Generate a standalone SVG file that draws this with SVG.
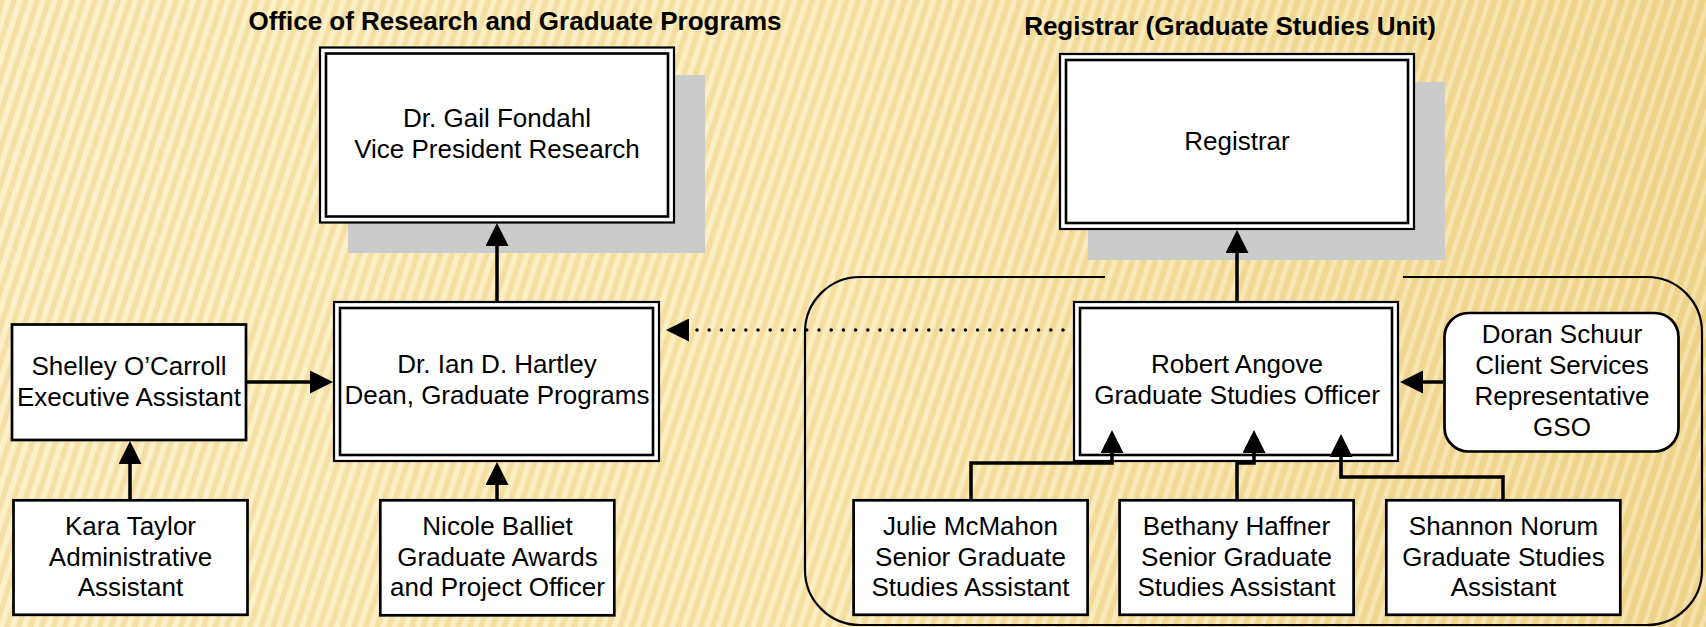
<svg xmlns="http://www.w3.org/2000/svg" width="1706" height="627" viewBox="0 0 1706 627">
<defs>
<linearGradient id="bgGrad" x1="0" y1="0" x2="1" y2="0">
<stop offset="0" stop-color="#FBEDC0"/>
<stop offset="0.5" stop-color="#F9E8B4"/>
<stop offset="1" stop-color="#F0D68F"/>
</linearGradient>
<pattern id="stripes" width="11" height="40" patternUnits="userSpaceOnUse" patternTransform="rotate(18)">
<rect x="0" y="0" width="5" height="40" fill="#E6C877" opacity="0.35"/>
<rect x="6" y="0" width="4" height="40" fill="#FFF8DC" opacity="0.35"/>
</pattern>
<marker id="arrow" viewBox="0 0 23 23" markerWidth="23" markerHeight="23" refX="3" refY="11.5" orient="auto" markerUnits="userSpaceOnUse">
<path d="M0,0 L23,11.5 L0,23 Z" fill="#000"/>
</marker>
<marker id="arrowD" viewBox="0 0 23 23" markerWidth="23" markerHeight="23" refX="0" refY="11.5" orient="auto" markerUnits="userSpaceOnUse">
<path d="M0,0 L23,11.5 L0,23 Z" fill="#000"/>
</marker>
</defs>
<style>
text{font-family:"Liberation Sans",Arial,sans-serif;font-size:26px;fill:#000;text-anchor:middle}
.title{font-weight:bold}
.box{fill:#fff;stroke:#000;stroke-width:2.7}
.outer{fill:#fff;stroke:#000;stroke-width:2.2}
.inner{fill:none;stroke:#000;stroke-width:2.6}
.shadow{fill:#CBCBCB;stroke:none}
.conn{fill:none;stroke:#000;stroke-width:3.5;marker-end:url(#arrow)}
.dot{fill:none;stroke:#000;stroke-width:3.5;stroke-linecap:round;stroke-dasharray:0 12.2;marker-end:url(#arrowD)}
.cont{fill:none;stroke:#000;stroke-width:2.2}
</style>
<rect x="0" y="0" width="1706" height="627" fill="url(#bgGrad)"/>
<rect x="0" y="0" width="1706" height="627" fill="url(#stripes)"/>

<text class="title" x="515" y="30">Office of Research and Graduate Programs</text>
<text class="title" x="1230" y="35">Registrar (Graduate Studies Unit)</text>

<path class="cont" d="M1105,277 H860 A55,55 0 0 0 805,332 V570 A55,55 0 0 0 860,625 H1647 A55,55 0 0 0 1702,570 V332 A55,55 0 0 0 1647,277 H1403"/>

<g id="gail">
<rect class="shadow" x="348" y="75" width="357" height="178"/>
<rect class="outer" x="320" y="47.5" width="354" height="175"/>
<rect class="inner" x="326" y="53.5" width="342" height="163"/>
<text x="497" y="127">Dr. Gail Fondahl</text>
<text x="497" y="158">Vice President Research</text>
</g>

<g id="registrar">
<rect class="shadow" x="1088" y="82" width="357" height="178"/>
<rect class="outer" x="1060" y="54" width="354" height="175"/>
<rect class="inner" x="1066" y="60" width="342" height="163"/>
<text x="1237" y="150">Registrar</text>
</g>

<g id="dean">
<rect class="outer" x="334" y="302" width="325" height="159"/>
<rect class="inner" x="340" y="308" width="313" height="147"/>
<text x="497" y="373">Dr. Ian D. Hartley</text>
<text x="497" y="404">Dean, Graduate Programs</text>
</g>

<g id="robert">
<rect class="outer" x="1074" y="302" width="324" height="159"/>
<rect class="inner" x="1080" y="308" width="312" height="147"/>
<text x="1237" y="373">Robert Angove</text>
<text x="1237" y="404">Graduate Studies Officer</text>
</g>

<g id="shelley">
<rect class="box" x="12" y="324.5" width="234" height="115.5"/>
<text x="129" y="375">Shelley O’Carroll</text>
<text x="129" y="406">Executive Assistant</text>
</g>

<g id="kara">
<rect class="box" x="13.5" y="500.3" width="234" height="114.5"/>
<text x="130.5" y="535">Kara Taylor</text>
<text x="130.5" y="565.5">Administrative</text>
<text x="130.5" y="596">Assistant</text>
</g>

<g id="nicole">
<rect class="box" x="380.3" y="500.3" width="234" height="115"/>
<text x="497.5" y="535">Nicole Balliet</text>
<text x="497.5" y="565.5">Graduate Awards</text>
<text x="497.5" y="596">and Project Officer</text>
</g>

<g id="doran">
<rect class="box" x="1444.5" y="313" width="234" height="138.5" rx="24" ry="24"/>
<text x="1562" y="343">Doran Schuur</text>
<text x="1562" y="374">Client Services</text>
<text x="1562" y="405">Representative</text>
<text x="1562" y="436">GSO</text>
</g>

<g id="julie">
<rect class="box" x="853.6" y="500.3" width="234" height="114.5"/>
<text x="970.5" y="535">Julie McMahon</text>
<text x="970.5" y="565.5">Senior Graduate</text>
<text x="970.5" y="596">Studies Assistant</text>
</g>

<g id="bethany">
<rect class="box" x="1119.6" y="500.3" width="234" height="114.5"/>
<text x="1236.5" y="535">Bethany Haffner</text>
<text x="1236.5" y="565.5">Senior Graduate</text>
<text x="1236.5" y="596">Studies Assistant</text>
</g>

<g id="shannon">
<rect class="box" x="1386.3" y="500.3" width="234" height="114.5"/>
<text x="1503.5" y="535">Shannon Norum</text>
<text x="1503.5" y="565.5">Graduate Studies</text>
<text x="1503.5" y="596">Assistant</text>
</g>

<g id="connectors">
<path class="conn" d="M497,301 V243"/>
<path class="conn" d="M1237,301 V250"/>
<path class="conn" d="M247,382 H313"/>
<path class="conn" d="M130,499 V461"/>
<path class="conn" d="M497,499 V482"/>
<path class="conn" d="M1443,382 H1420"/>
<path class="conn" d="M971,499 V463 H1112 V450"/>
<path class="conn" d="M1237,499 V463 H1254 V450"/>
<path class="conn" d="M1503,499 V477 H1341 V454"/>
<path class="dot" d="M1063,330 H689"/>
</g>
</svg>
